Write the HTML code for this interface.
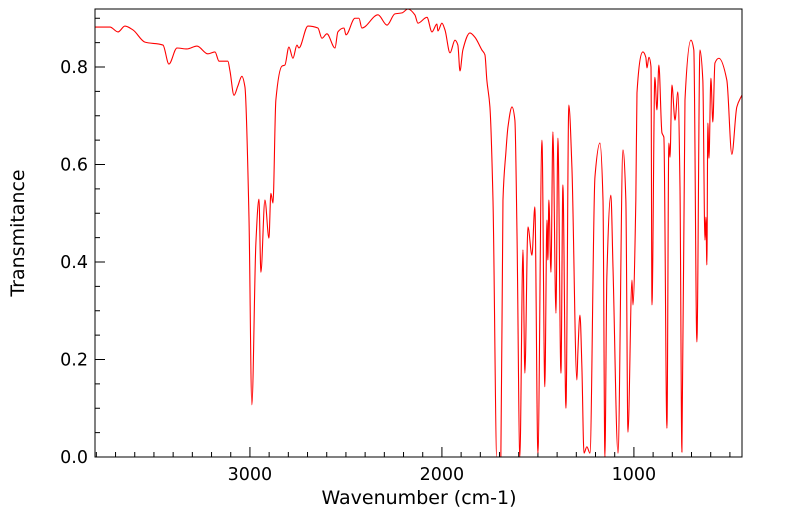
<!DOCTYPE html>
<html><head><meta charset="utf-8"><style>
html,body{margin:0;padding:0;background:#fff;}
svg{display:block;font-family:"DejaVu Sans","Liberation Sans",sans-serif;}
</style></head><body>
<svg id="chart" width="799" height="516" viewBox="0 0 799 516" xmlns="http://www.w3.org/2000/svg">
<rect x="0" y="0" width="799" height="516" fill="#fff"/>
<g id="ticks"></g>
<path id="line" fill="none" stroke="#ff0000" stroke-width="1.1" stroke-linejoin="round"/>
<rect x="95" y="9" width="647" height="448" fill="none" stroke="#000" stroke-width="1"/>
<text x="419" y="504" text-anchor="middle" font-size="19">Wavenumber (cm-1)</text>
<text transform="translate(24,233) rotate(-90)" text-anchor="middle" font-size="19">Transmitance</text>
</svg>
<script>
const wavenumbers=[3807,3729,3687,3651,3609,3547,3453,3422,3380,3328,3276,3219,3182,3161,3115,3104,3083,3063,3042,3026,3005,2990,2969,2953,2943,2922,2901,2891,2880,2865,2833,2818,2797,2776,2755,2745,2698,2646,2625,2599,2557,2542,2510,2500,2453,2432,2417,2333,2286,2245,2208,2177,2141,2125,2078,2052,2026,2021,2000,1984,1958,1932,1917,1906,1891,1854,1828,1792,1776,1766,1750,1734,1714,1693,1682,1667,1656,1635,1620,1609,1594,1578,1568,1552,1531,1516,1500,1479,1464,1453,1448,1443,1432,1422,1406,1396,1380,1370,1354,1339,1323,1297,1292,1281,1271,1260,1245,1229,1203,1177,1161,1151,1141,1120,1109,1083,1057,1042,1031,1010,1005,990,984,953,938,932,922,911,906,891,880,870,854,844,828,818,812,802,786,771,760,750,734,703,688,672,656,641,630,625,620,615,609,599,589,578,557,516,490,464,438];
const transmittance=[.882,.882,.872,.884,.876,.851,.845,.806,.839,.837,.843,.827,.831,.812,.812,.792,.742,.761,.781,.759,.492,.107,.439,.529,.379,.527,.449,.541,.521,.732,.802,.804,.841,.818,.845,.839,.884,.880,.859,.868,.839,.872,.880,.866,.900,.900,.880,.907,.886,.909,.911,.919,.907,.890,.902,.872,.888,.874,.890,.876,.829,.855,.845,.792,.835,.870,.861,.835,.825,.773,.718,.527,0,0,.527,.624,.677,.718,.691,.459,0,.425,.172,.472,.414,.513,.008,.650,.144,.486,.404,.527,.379,.667,.295,.654,.172,.558,.100,.722,.595,.158,.213,.291,.185,.008,.021,.008,.574,.644,.527,0,.369,.537,.390,.008,.630,.527,.051,.363,.312,.527,.747,.831,.820,.798,.820,.800,.312,.779,.712,.804,.665,.656,.059,.644,.615,.763,.691,.749,.554,.010,.732,.855,.835,.236,.835,.773,.445,.492,.394,.685,.613,.777,.687,.808,.818,.773,.621,.718,.742];
const xTicks=[3000,2000,1000];
const yTicks=[0.0,0.2,0.4,0.6,0.8];
const yLabels=["0.0","0.2","0.4","0.6","0.8"];

const X0=95,X1=742,Y0=9,Y1=457,WMAX=3807,WMIN=437,TMAX=0.919;
function xs(w){return X0+(WMAX-w)/(WMAX-WMIN)*(X1-X0);}
function ys(t){return Y1-t/TMAX*(Y1-Y0);}
const NS="http://www.w3.org/2000/svg";
const g=document.getElementById('ticks');
function ln(x1,y1,x2,y2,name){const l=document.createElementNS(NS,'line');l.setAttribute('x1',x1);l.setAttribute('y1',y1);l.setAttribute('x2',x2);l.setAttribute('y2',y2);l.setAttribute('stroke','#000');l.setAttribute('stroke-width','1');


g.appendChild(l);}
for(let w=3800;w>=500;w-=100){const x=xs(w);const major=w%1000===0;ln(x,Y1,x,Y1-(major?10:5),major?'x-major-tick':'x-minor-tick');}
for(let t=0;t<=0.9001;t+=0.05){const y=ys(t);const major=Math.abs(t*10-Math.round(t*10))<1e-6&&Math.round(t*10)%2===0;ln(X0,y,X0+(major?10:5),y,major?'y-major-tick':'y-minor-tick');}
xTicks.forEach(w=>{const t=document.createElementNS(NS,'text');t.setAttribute('x',xs(w));t.setAttribute('y',480);t.setAttribute('text-anchor','middle');t.setAttribute('font-size','17.5');t.textContent=String(w);


g.appendChild(t);});
yTicks.forEach((v,i)=>{const t=document.createElementNS(NS,'text');t.setAttribute('x',88);t.setAttribute('y',ys(v)+6);t.setAttribute('text-anchor','end');t.setAttribute('font-size','17.5');t.textContent=yLabels[i];


g.appendChild(t);});
// monotone cubic smoothing
const px=wavenumbers.map(xs), py=transmittance.map(ys);
const n=px.length, dk=[], m=[];
for(let i=0;i<n-1;i++){dk.push((py[i+1]-py[i])/(px[i+1]-px[i]));}
for(let i=0;i<n;i++){
  if(i===0)m.push(dk[0]);else if(i===n-1)m.push(dk[n-2]);
  else if(dk[i-1]*dk[i]<=0)m.push(0);
  else{const h0=px[i]-px[i-1],h1=px[i+1]-px[i];const w1=2*h1+h0,w2=h1+2*h0;m.push((w1+w2)/(w1/dk[i-1]+w2/dk[i]));}
}
let d='M'+px[0].toFixed(2)+','+py[0].toFixed(2);
for(let i=0;i<n-1;i++){const h=(px[i+1]-px[i])/3;
d+='C'+(px[i]+h).toFixed(2)+','+(py[i]+m[i]*h).toFixed(2)+' '+(px[i+1]-h).toFixed(2)+','+(py[i+1]-m[i+1]*h).toFixed(2)+' '+px[i+1].toFixed(2)+','+py[i+1].toFixed(2);}
document.getElementById('line').setAttribute('d',d);
</script>
</body></html>
